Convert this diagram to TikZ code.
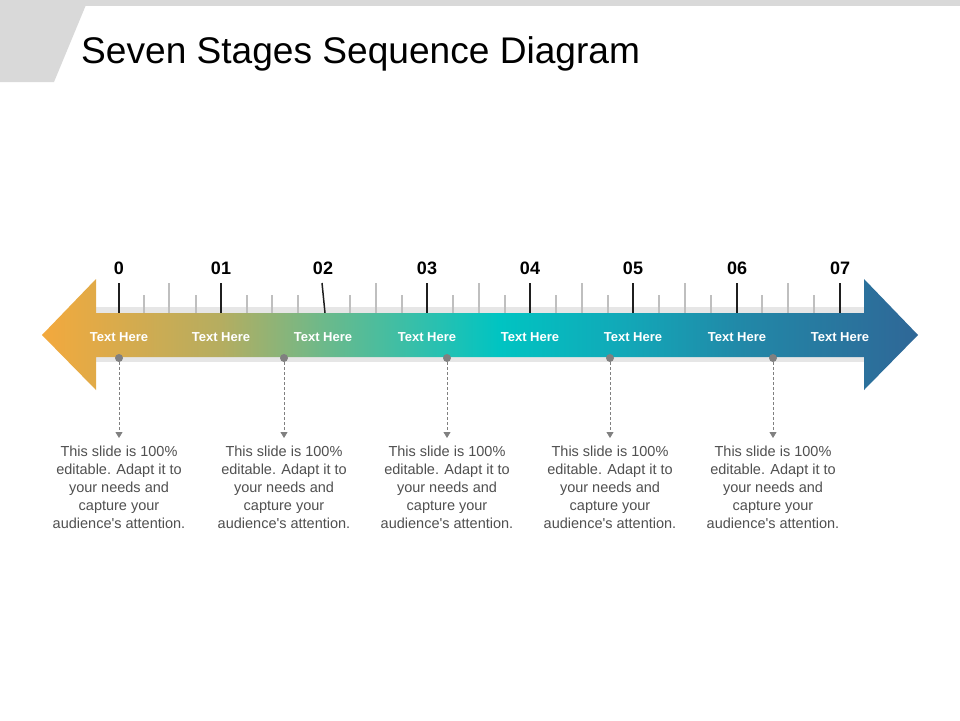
\documentclass[tikz,border=0pt]{standalone}
\usepackage{fontspec}
\setmainfont{Liberation Sans}[Ligatures=TeXOff]
\usetikzlibrary{arrows.meta}
\definecolor{cA}{HTML}{F3A93D}
\definecolor{cB}{HTML}{B5AD60}
\definecolor{cC}{HTML}{6DB98A}
\definecolor{cD}{HTML}{2EC0AE}
\definecolor{cE}{HTML}{00C4C2}
\definecolor{cF}{HTML}{13A6B7}
\definecolor{cG}{HTML}{2189A8}
\definecolor{cH}{HTML}{2F6797}
\definecolor{hdrgray}{HTML}{D9D9D9}
\definecolor{bandgray}{HTML}{E6E6E6}
\definecolor{majtick}{HTML}{1F1F1F}
\definecolor{mintick}{HTML}{BFBFBF}
\definecolor{dotgray}{HTML}{808080}
\definecolor{desctext}{HTML}{505050}
\pgfdeclarehorizontalshading{arrowgrad}{100bp}{color(0bp)=(cA); color(25bp)=(cA); color(35.2bp)=(cB); color(41bp)=(cC); color(47bp)=(cD); color(51.1bp)=(cE); color(58.7bp)=(cF); color(64.7bp)=(cG); color(75bp)=(cH); color(100bp)=(cH)}
\tikzset{
  numlabel/.style={font=\bfseries\fontsize{18}{20}\selectfont, text=black, inner sep=0pt},
  stagelabel/.style={font=\bfseries\fontsize{13}{15}\selectfont, text=white, inner sep=0pt},
  desc/.style={font=\fontsize{14.5}{18}\selectfont, text=desctext, align=center, inner sep=0pt, anchor=north},
  dotnode/.style={circle, fill=dotgray, minimum size=8pt, inner sep=0pt},
  conn/.style={draw=dotgray, line width=0.8pt, dash pattern=on 3pt off 2pt, -{Triangle[length=6pt,width=7pt]}, shorten >=8pt},
  majortick/.style={draw=majtick, line width=2pt},
  halftick/.style={draw=mintick, line width=2pt},
  quartick/.style={draw=mintick, line width=1.5pt},
}
\begin{document}
\begin{tikzpicture}[x=1pt,y=-1pt]
\useasboundingbox (0,0) rectangle (960,720);
\fill[white] (0,0) rectangle (960,720);
% header
\fill[hdrgray] (0,0) rectangle (960,6);
\fill[hdrgray] (0,0) -- (88,0) -- (54,82) -- (0,82) -- cycle;
\node[anchor=base west, inner sep=0pt, font=\fontsize{37.1}{40}\selectfont] (title) at (81,63) {Seven Stages Sequence Diagram};
% band shadow
\fill[bandgray] (96,307) rectangle (864,362);
% ticks
\foreach \x in {119,221,427,530,633,737,840} \draw[majortick] (\x,283) -- (\x,313);
\draw[majortick, line width=1.5pt] (322,283) -- (325,313);
\foreach \x in {169,376,479,582,685,788} \draw[halftick] (\x,283) -- (\x,313);
\foreach \x in {144,196,247,272,298,350,402,453,505,556,608,659,711,762,814} \draw[quartick] (\x,295) -- (\x,313);
% main double arrow
\path[shading=arrowgrad] (42,335) -- (96,279) -- (96,313) -- (864,313) -- (864,279) -- (918,335) -- (864,390) -- (864,357) -- (96,357) -- (96,390) -- cycle;
% number labels
\foreach \x/\t [count=\i] in {119/0,221/01,323/02,427/03,530/04,633/05,737/06,840/07}
  \node[numlabel] (n\i) at (\x,268) {\t};
\foreach \x [count=\i] in {119,221,323,427,530,633,737,840}
  \node[stagelabel] (s\i) at (\x,337) {Text Here};
% dots, connectors, descriptions
\foreach \x [count=\i] in {119,284,447,610,773}{
  \node[dotnode] (p\i) at (\x,358) {};
  \node[desc] (d\i) at (\x,446) {This slide is 100\%\\editable. Adapt it to\\your needs and\\capture your\\audience's attention.};
  \draw[conn] (p\i) -- (d\i.north);
}
\end{tikzpicture}
\end{document}
